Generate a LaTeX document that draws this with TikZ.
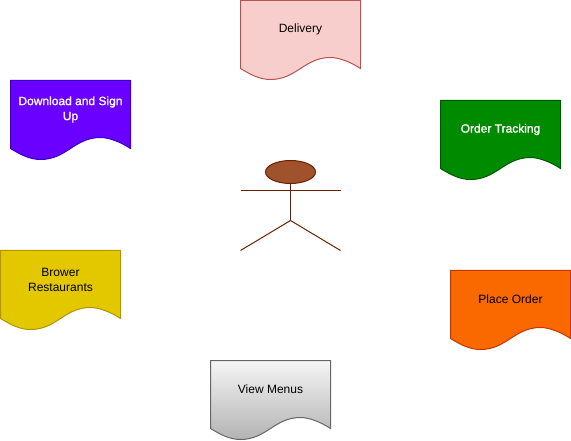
\documentclass[tikz,border=0pt]{standalone}
\usepackage{fontspec}
\usetikzlibrary{shapes.geometric}
\setmainfont{Liberation Sans}
\newfontfamily\heavyface[FakeBold=1.4]{Liberation Sans}
\definecolor{delF}{HTML}{F8CECC}\definecolor{delD}{HTML}{B85450}
\definecolor{purF}{HTML}{6A00FF}\definecolor{purD}{HTML}{3700CC}
\definecolor{grnF}{HTML}{008A00}\definecolor{grnD}{HTML}{005700}
\definecolor{yelF}{HTML}{E3C800}\definecolor{yelD}{HTML}{B09500}
\definecolor{oraF}{HTML}{FA6800}\definecolor{oraD}{HTML}{C73500}
\definecolor{gryT}{HTML}{F5F5F5}\definecolor{gryB}{HTML}{B3B3B3}\definecolor{gryD}{HTML}{666666}
\definecolor{headF}{HTML}{A0522D}\definecolor{headD}{HTML}{6D1F00}
\tikzset{
  x=1pt,y=-1pt,
  doc/.style={line width=1pt,line join=miter},
  label/.style={font=\fontsize{12}{15}\selectfont,align=center,text=black,inner sep=0pt},
  whitelabel/.style={label,font=\heavyface\fontsize{12}{15}\selectfont,text=white},
  limb/.style={draw=headD,line width=1pt}
}
\newcommand{\docshape}[3]{%
  \begin{scope}[shift={(#1,#2)}]
  \path[doc,#3] (0,0) -- (120,0) -- (120,68)
    .. controls (111,62) and (99,57) .. (90,57)
    .. controls (64,57) and (56,79) .. (30,79)
    .. controls (19,79) and (10,74) .. (0,68) -- cycle;
  \end{scope}}
\begin{document}
\begin{tikzpicture}
\useasboundingbox (0,0) rectangle (571,441);
\clip (0,0) rectangle (571,441);
\begin{scope}[shift={(0.5,0.5)}]
\docshape{240}{0}{fill=delF,draw=delD}
\docshape{10}{80}{fill=purF,draw=purD}
\docshape{440}{100}{fill=grnF,draw=grnD}
\docshape{0}{250}{fill=yelF,draw=yelD}
\docshape{450}{270}{fill=oraF,draw=oraD}
\docshape{210}{360}{top color=gryT,bottom color=gryB,draw=gryD}
\node[label] (delivery) at (300,29) {Delivery};
\node[whitelabel] (download) at (70,109) {Download and Sign\\Up};
\node[whitelabel] (tracking) at (500,129) {Order Tracking};
\node[label] (brower) at (60,279) {Brower\\Restaurants};
\node[label] (place) at (510,299) {Place Order};
\node[label] (view) at (270,389) {View Menus};
\node[ellipse,draw=headD,fill=headF,line width=1pt,minimum width=50pt,minimum height=23pt,inner sep=0pt] (head) at (290,171.5) {};
\coordinate (hip) at (290,220);
\coordinate (armL) at (240,190);
\coordinate (armR) at (340,190);
\coordinate (footL) at (240,250);
\coordinate (footR) at (340,250);
\draw[limb] (head.south) -- (hip);
\draw[limb] (armL) -- (armR);
\draw[limb] (footL) -- (hip) -- (footR);
\end{scope}
\end{tikzpicture}
\end{document}
